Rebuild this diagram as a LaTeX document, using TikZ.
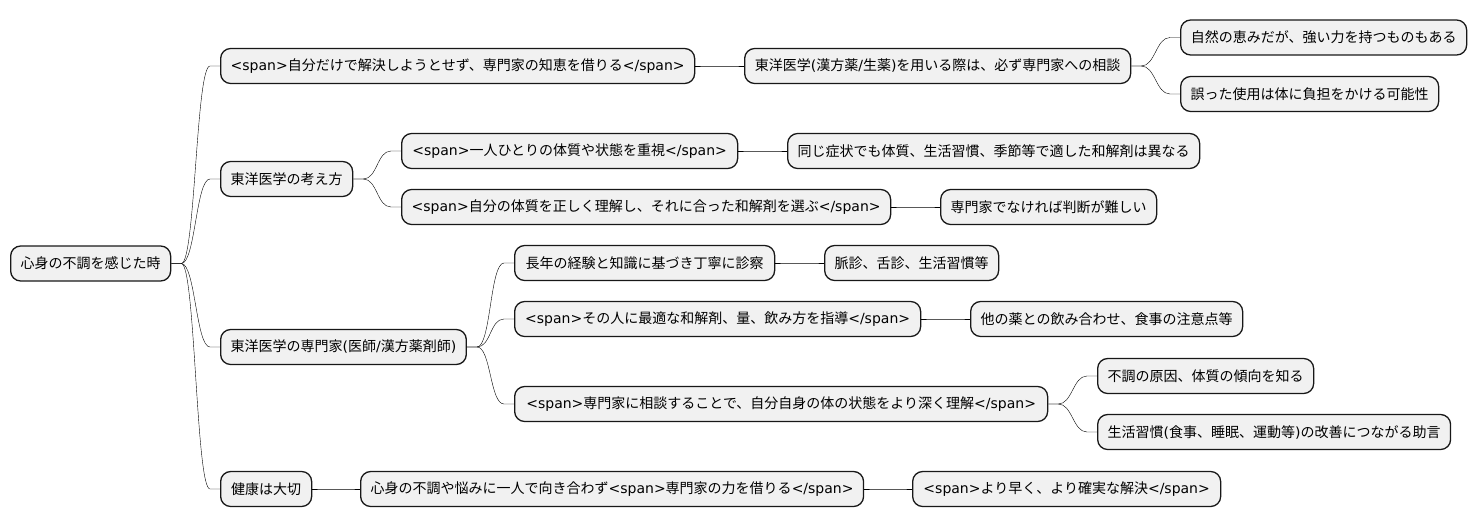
\documentclass[tikz,border=0pt]{standalone}
\usepackage{fontspec}
\setmainfont{Noto Sans CJK JP}
\newfontfamily\latfont{DejaVu Sans}
\newcommand{\tg}[1]{{\latfont #1}}
\usetikzlibrary{calc}
\definecolor{mmFill}{HTML}{F1F1F1}
\definecolor{mmLine}{HTML}{181818}

\begin{document}
\begin{tikzpicture}[
  x=1pt, y=-1pt,
  topic/.style={draw=mmLine, line width=1.3pt, rounded corners=10pt, fill=mmFill, anchor=west,
    minimum height=35pt, inner xsep=10pt, font=\fontsize{14}{16}\selectfont},
  branch/.style={line width=0.9pt, color=mmLine,
    to path={-- ++(10,0) .. controls +(14,0) and ($(\tikztotarget.west)+(-24,0)$) .. ($(\tikztotarget.west)+(-10,0)$) -- (\tikztotarget.west)}}
]
  \useasboundingbox (0,0) rectangle (1477,527);

  % root
  \node[topic, minimum width=160pt] (root) at (10,263.5) {心身の不調を感じた時};

  % first branch
  \node[topic, minimum width=474pt] (advice) at (220,66) {\tg{<span>}自分だけで解決しようとせず、専門家の知恵を借りる\tg{</span>}};
  \node[topic, minimum width=386pt] (consult) at (744,66) {東洋医学\tg{(}漢方薬\tg{/}生薬\tg{)}を用いる際は、必ず専門家への相談};
  \node[topic, minimum width=286pt] (nature) at (1180,37.5) {自然の恵みだが、強い力を持つものもある};
  \node[topic, minimum width=258pt] (misuse) at (1180,94) {誤った使用は体に負担をかける可能性};

  % second branch
  \node[topic, minimum width=131pt] (idea) at (220,179) {東洋医学の考え方};
  \node[topic, minimum width=336pt] (person) at (401,151) {\tg{<span>}一人ひとりの体質や状態を重視\tg{</span>}};
  \node[topic, minimum width=489pt] (choose) at (401,207) {\tg{<span>}自分の体質を正しく理解し、それに合った和解剤を選ぶ\tg{</span>}};
  \node[topic, minimum width=411pt] (differ) at (787,151) {同じ症状でも体質、生活習慣、季節等で適した和解剤は異なる};
  \node[topic, minimum width=216pt] (hard) at (940,207) {専門家でなければ判断が難しい};

  % third branch
  \node[topic, minimum width=245pt] (expert) at (220,347) {東洋医学の専門家\tg{(}医師\tg{/}漢方薬剤師\tg{)}};
  \node[topic, minimum width=260pt] (exam) at (514,263) {長年の経験と知識に基づき丁寧に診察};
  \node[topic, minimum width=406pt] (guide) at (514,319) {\tg{<span>}その人に最適な和解剤、量、飲み方を指導\tg{</span>}};
  \node[topic, minimum width=533pt] (understand) at (514,404) {\tg{<span>}専門家に相談することで、自分自身の体の状態をより深く理解\tg{</span>}};
  \node[topic, minimum width=173pt] (pulse) at (824,263) {脈診、舌診、生活習慣等};
  \node[topic, minimum width=272pt] (combo) at (970,319) {他の薬との飲み合わせ、食事の注意点等};
  \node[topic, minimum width=215pt] (cause) at (1097,376) {不調の原因、体質の傾向を知る};
  \node[topic, minimum width=352pt] (habit) at (1097,432) {生活習慣\tg{(}食事、睡眠、運動等\tg{)}の改善につながる助言};

  % fourth branch
  \node[topic, minimum width=91pt] (health) at (220,489) {健康は大切};
  \node[topic, minimum width=502pt] (alone) at (360,489) {心身の不調や悩みに一人で向き合わず\tg{<span>}専門家の力を借りる\tg{</span>}};
  \node[topic, minimum width=308pt] (faster) at (912,489) {\tg{<span>}より早く、より確実な解決\tg{</span>}};

  % connectors
  \draw (root.east) to[branch] (advice);
  \draw (root.east) to[branch] (idea);
  \draw (root.east) to[branch] (expert);
  \draw (root.east) to[branch] (health);
  \draw (advice.east) to[branch] (consult);
  \draw (consult.east) to[branch] (nature);
  \draw (consult.east) to[branch] (misuse);
  \draw (idea.east) to[branch] (person);
  \draw (idea.east) to[branch] (choose);
  \draw (person.east) to[branch] (differ);
  \draw (choose.east) to[branch] (hard);
  \draw (expert.east) to[branch] (exam);
  \draw (expert.east) to[branch] (guide);
  \draw (expert.east) to[branch] (understand);
  \draw (exam.east) to[branch] (pulse);
  \draw (guide.east) to[branch] (combo);
  \draw (understand.east) to[branch] (cause);
  \draw (understand.east) to[branch] (habit);
  \draw (health.east) to[branch] (alone);
  \draw (alone.east) to[branch] (faster);
\end{tikzpicture}
\end{document}
